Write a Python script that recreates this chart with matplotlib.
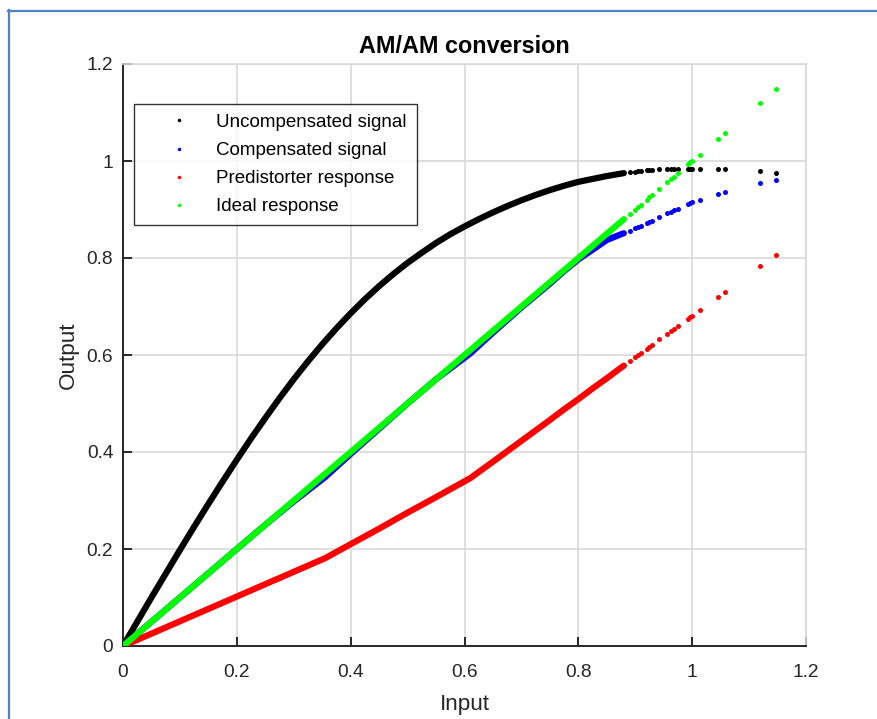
import matplotlib.pyplot as plt
from matplotlib.lines import Line2D

plt.rcParams['font.family'] = ['Liberation Sans', 'DejaVu Sans']

# dense part of the uncompensated (PA only) curve
x_uncomp = [0, 0.025, 0.05, 0.075, 0.1, 0.125, 0.15, 0.175, 0.2, 0.225, 0.25, 0.275,
            0.3, 0.325, 0.35, 0.375, 0.4, 0.425, 0.45, 0.475, 0.5, 0.525, 0.55, 0.575,
            0.6, 0.625, 0.65, 0.675, 0.7, 0.725, 0.75, 0.775, 0.8, 0.825, 0.85, 0.875, 0.88]
uncomp_dense = [0, 0.050, 0.100, 0.149, 0.198, 0.246, 0.293, 0.339, 0.384, 0.428, 0.470, 0.511,
                0.550, 0.587, 0.622, 0.655, 0.686, 0.715, 0.742, 0.767, 0.790, 0.811, 0.831, 0.849,
                0.865, 0.880, 0.894, 0.907, 0.919, 0.930, 0.940, 0.949, 0.957, 0.963, 0.969, 0.974, 0.975]

# dense part of the other three curves
x_dense = [0, 0.05, 0.1, 0.15, 0.2, 0.25, 0.3, 0.355, 0.4, 0.45, 0.5, 0.55,
           0.61, 0.65, 0.7, 0.75, 0.775, 0.8, 0.825, 0.85, 0.875, 0.88]
comp_dense = [0, 0.050, 0.100, 0.150, 0.200, 0.250, 0.298, 0.348, 0.396, 0.448,
              0.500, 0.550, 0.603, 0.646, 0.698, 0.747, 0.773, 0.797, 0.817, 0.837, 0.849, 0.851]
pred_dense = [0, 0.0255, 0.051, 0.0765, 0.102, 0.1275, 0.153, 0.181, 0.210, 0.242,
              0.275, 0.307, 0.346, 0.380, 0.423, 0.466, 0.488, 0.509, 0.531, 0.552, 0.574, 0.578]
ideal_dense = [0, 0.05, 0.1, 0.15, 0.2, 0.25, 0.3, 0.355, 0.4, 0.45, 0.5, 0.55,
               0.61, 0.65, 0.7, 0.75, 0.775, 0.8, 0.825, 0.85, 0.875, 0.88]

# sparse samples at high input amplitude (separate dots)
x_sparse = [0.891, 0.90, 0.905, 0.91, 0.92, 0.925, 0.93, 0.942, 0.956, 0.962,
            0.968, 0.975, 0.993, 0.997, 1.0, 1.013, 1.046, 1.058, 1.12, 1.148]
uncomp_sparse = [0.977, 0.978, 0.979, 0.980, 0.981, 0.981, 0.982, 0.983, 0.984, 0.984,
                 0.984, 0.984, 0.984, 0.984, 0.984, 0.984, 0.983, 0.983, 0.979, 0.976]
comp_sparse = [0.856, 0.861, 0.864, 0.867, 0.872, 0.875, 0.877, 0.884, 0.892, 0.895,
               0.898, 0.902, 0.911, 0.913, 0.915, 0.920, 0.932, 0.936, 0.955, 0.961]
pred_sparse = [0.588, 0.595, 0.600, 0.604, 0.613, 0.617, 0.621, 0.632, 0.644, 0.649,
               0.654, 0.660, 0.675, 0.679, 0.681, 0.692, 0.720, 0.730, 0.783, 0.807]
ideal_sparse = [0.891, 0.90, 0.905, 0.91, 0.92, 0.925, 0.93, 0.942, 0.956, 0.962,
                0.968, 0.975, 0.993, 0.997, 1.0, 1.013, 1.046, 1.058, 1.12, 1.148]

labels = ['Uncompensated signal', 'Compensated signal', 'Predistorter response', 'Ideal response']
colors = ['black', 'blue', 'red', '#00ff00']

ticks = [0, 0.2, 0.4, 0.6, 0.8, 1, 1.2]
tick_labels = ['0', '0.2', '0.4', '0.6', '0.8', '1', '1.2']

fig = plt.figure(figsize=(8.77, 7.19), dpi=100)
ax = fig.add_axes([123 / 877, 1 - 646 / 719, 683 / 877, 582 / 719])

dense_x = [x_uncomp, x_dense, x_dense, x_dense]
dense = [uncomp_dense, comp_dense, pred_dense, ideal_dense]
sparse = [uncomp_sparse, comp_sparse, pred_sparse, ideal_sparse]
handles = []
for xd, yd, ys, c, lab in zip(dense_x, dense, sparse, colors, labels):
    ax.plot(xd, yd, color=c, lw=4.5, solid_capstyle='round', solid_joinstyle='round', zorder=3)
    h, = ax.plot(x_sparse, ys, 'o', color=c, ms=3.6, mew=0, label=lab, zorder=3)
    handles.append(h)

ax.set_xlim(0, 1.2)
ax.set_ylim(0, 1.2)
ax.set_xticks(ticks)
ax.set_xticklabels(tick_labels)
ax.set_yticks(ticks)
ax.set_yticklabels(tick_labels)
ax.grid(True, color='#d9d9d9', lw=1.2)
ax.set_axisbelow(True)

for side in ['top', 'right']:
    ax.spines[side].set_color('#d9d9d9')
    ax.spines[side].set_linewidth(1.2)
for side in ['left', 'bottom']:
    ax.spines[side].set_color('#262626')
    ax.spines[side].set_linewidth(1.4)

ax.tick_params(direction='in', length=6.5, width=1.4, color='#262626',
               labelsize=13.8, labelcolor='#262626', top=False, right=False)
ax.tick_params(axis='x', pad=13)
ax.tick_params(axis='y', pad=7)

ax.set_title('AM/AM conversion', fontsize=16.8, fontweight='bold', pad=8)
ax.set_xlabel('Input', fontsize=16.2, color='#262626', labelpad=9)
ax.set_ylabel('Output', fontsize=16.2, color='#262626', labelpad=5.5)

leg = ax.legend(handles=handles, loc='upper left',
                bbox_to_anchor=(134 / 877, 1 - 104 / 719), bbox_transform=fig.transFigure,
                fontsize=13.5, frameon=True, fancybox=False, edgecolor='black',
                borderpad=0.52, handlelength=3.77, handletextpad=0.1,
                labelspacing=0.59, markerscale=0.7, borderaxespad=0)
leg.get_frame().set_linewidth(1.0)

# blue frame around the figure (left and top edges visible)
fig.add_artist(Line2D([8 / 877, 1], [1 - 11 / 719] * 2, transform=fig.transFigure,
                      color='#4f7fc4', lw=1.6))
fig.add_artist(Line2D([9 / 877] * 2, [0, 1 - 10 / 719], transform=fig.transFigure,
                      color='#4f7fc4', lw=1.6))

fig.savefig('out.png', dpi=100)
